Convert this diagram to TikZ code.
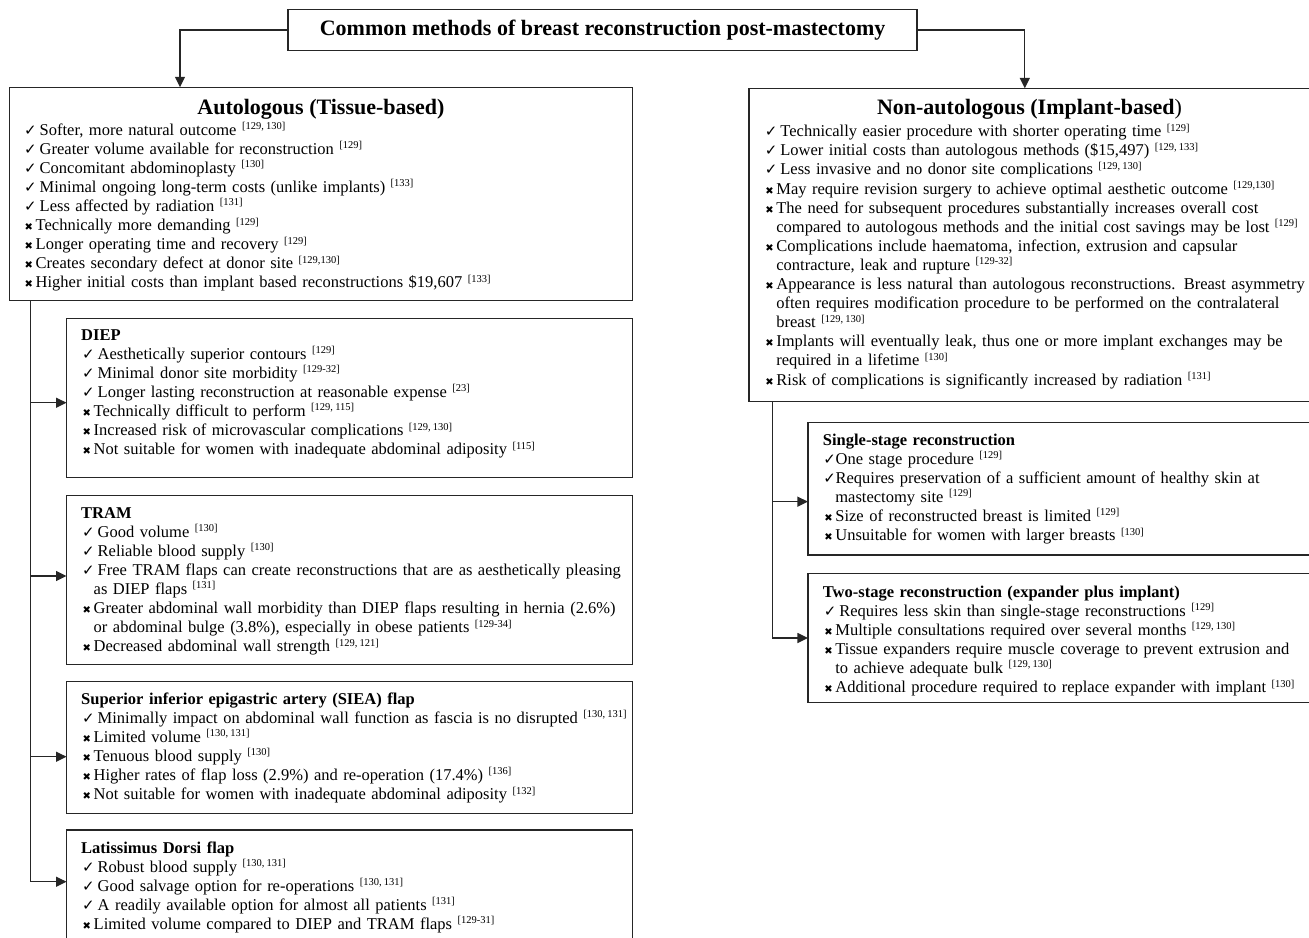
\documentclass[tikz,border=0pt]{standalone}
\usepackage{fontspec}
\setmainfont{Liberation Serif}
\newfontfamily\dvsans{DejaVu Sans}
\usepackage{tikz}
\usetikzlibrary{arrows.meta,positioning}
\newcommand{\rf}[1]{\raisebox{5.5pt}{\fontsize{10.5}{10.5}\selectfont\spaceskip=2.2pt\relax[#1]}}
\newcommand{\ck}{\makebox[16.5pt][l]{\hspace{1pt}\dvsans\fontsize{15}{15}\selectfont ✓}}
\newcommand{\ckt}{\makebox[12.7pt][l]{\hspace{0.5pt}\dvsans\fontsize{15}{15}\selectfont ✓}}
\newcommand{\xx}{\makebox[12.5pt][l]{\hspace{1.5pt}\dvsans\fontsize{10}{10}\selectfont ✖}}
\newcommand{\cont}{\hspace*{12.5pt}}

\begin{document}
\begin{tikzpicture}[
  x=1pt, y=-1pt,
  box/.style={draw=black!85, line width=1.4pt, inner sep=0pt, outer sep=0pt,
    anchor=north west, minimum width=566pt},
  head/.style={font=\fontsize{22}{24}\selectfont\bfseries, anchor=base, inner sep=0pt},
  items/.style={font=\fontsize{16.5}{19.1}\selectfont, anchor=base west,
    inner sep=0pt, text width=560pt, align=left},
  link/.style={line width=1.3pt, draw=black!85, -{Triangle[length=10.5pt,width=10pt]}}
]
  \useasboundingbox (0,0) rectangle (1309,937);

  % Title
  \node[box, anchor=center, minimum width=629pt, minimum height=41.4pt,
    font=\fontsize{22}{24}\selectfont\bfseries] (title) at (602.6,30)
    {Common methods of breast reconstruction post-mastectomy};

  % Main boxes
  \node[box, minimum width=623.3pt, minimum height=213.4pt] (auto) at (9.3,87.3) {};
  \node[head] (autohead) at (321,114) {Autologous (Tissue-based)};
  \node[items] (autolist) at (23,135) {%
    \ck Softer, more natural outcome \rf{129, 130}\\
    \ck Greater volume available for reconstruction \rf{129}\\
    \ck Concomitant abdominoplasty \rf{130}\\
    \ck Minimal ongoing long-term costs (unlike implants) \rf{133}\\
    \ck Less affected by radiation \rf{131}\\
    \xx Technically more demanding \rf{129}\\
    \xx Longer operating time and recovery \rf{129}\\
    \xx Creates secondary defect at donor site \rf{129,130}\\
    \xx Higher initial costs than implant based reconstructions \$19,607 \rf{133}};

  \node[box, minimum width=590pt, minimum height=313.4pt] (implant) at (748.8,88.3) {};
  \node[head] (implanthead) at (1029.5,114) {Non-autologous (Implant-based{\mdseries )}};
  \node[items] (implantlist) at (763.7,136.7) {%
    \ck Technically easier procedure with shorter operating time \rf{129}\\
    \ck Lower initial costs than autologous methods (\$15,497) \rf{129, 133}\\
    \ck Less invasive and no donor site complications \rf{129, 130}\\
    \xx May require revision surgery to achieve optimal aesthetic outcome \rf{129,130}\\
    \xx The need for subsequent procedures substantially increases overall cost\\
    \cont compared to autologous methods and the initial cost savings may be lost \rf{129}\\
    \xx Complications include haematoma, infection, extrusion and capsular\\
    \cont contracture, leak and rupture \rf{129-32}\\
    \xx Appearance is less natural than autologous reconstructions. Breast asymmetry\\
    \cont often requires modification procedure to be performed on the contralateral\\
    \cont breast \rf{129, 130}\\
    \xx Implants will eventually leak, thus one or more implant exchanges may be\\
    \cont required in a lifetime \rf{130}\\
    \xx Risk of complications is significantly increased by radiation \rf{131}};

  % Autologous flaps
  \node[box, minimum height=159.4pt] (diep) at (66.5,318.3) {};
  \node[items] (dieplist) at (81,340) {%
    \textbf{DIEP}\\
    \ck Aesthetically superior contours \rf{129}\\
    \ck Minimal donor site morbidity \rf{129-32}\\
    \ck Longer lasting reconstruction at reasonable expense \rf{23}\\
    \xx Technically difficult to perform \rf{129, 115}\\
    \xx Increased risk of microvascular complications \rf{129, 130}\\
    \xx Not suitable for women with inadequate abdominal adiposity \rf{115}};

  \node[box, minimum height=168.6pt] (tram) at (66.5,495.7) {};
  \node[items] (tramlist) at (81,518) {%
    \textbf{TRAM}\\
    \ck Good volume \rf{130}\\
    \ck Reliable blood supply \rf{130}\\
    \ck Free TRAM flaps can create reconstructions that are as aesthetically pleasing\\
    \cont as DIEP flaps \rf{131}\\
    \xx Greater abdominal wall morbidity than DIEP flaps resulting in hernia (2.6\%)\\
    \cont or abdominal bulge (3.8\%), especially in obese patients \rf{129-34}\\
    \xx Decreased abdominal wall strength \rf{129, 121}};

  \node[box, minimum height=131.6pt] (siea) at (66.5,681.7) {};
  \node[items] (siealist) at (81,704) {%
    \textbf{Superior inferior epigastric artery (SIEA) flap}\\
    \ck Minimally impact on abdominal wall function as fascia is no disrupted \rf{130, 131}\\
    \xx Limited volume \rf{130, 131}\\
    \xx Tenuous blood supply \rf{130}\\
    \xx Higher rates of flap loss (2.9\%) and re-operation (17.4\%) \rf{136}\\
    \xx Not suitable for women with inadequate abdominal adiposity \rf{132}};

  \node[box, minimum height=120pt] (lat) at (66.5,830) {};
  \node[items] (latlist) at (81,853) {%
    \textbf{Latissimus Dorsi flap}\\
    \ck Robust blood supply \rf{130, 131}\\
    \ck Good salvage option for re-operations \rf{130, 131}\\
    \ck A readily available option for almost all patients \rf{131}\\
    \xx Limited volume compared to DIEP and TRAM flaps \rf{129-31}};

  % Implant stages
  \node[box, minimum width=530pt, minimum height=132.3pt] (single) at (807.9,422.7) {};
  \node[items] (singlelist) at (822.7,445) {%
    \textbf{Single-stage reconstruction}\\
    \ckt One stage procedure \rf{129}\\
    \ckt Requires preservation of a sufficient amount of healthy skin at\\
    \cont mastectomy site \rf{129}\\
    \xx Size of reconstructed breast is limited \rf{129}\\
    \xx Unsuitable for women with larger breasts \rf{130}};

  \node[box, minimum width=530pt, minimum height=129.4pt] (two) at (807.9,573.3) {};
  \node[items] (twolist) at (822.7,597) {%
    \textbf{Two-stage reconstruction (expander plus implant)}\\
    \ck Requires less skin than single-stage reconstructions \rf{129}\\
    \xx Multiple consultations required over several months \rf{129, 130}\\
    \xx Tissue expanders require muscle coverage to prevent extrusion and\\
    \cont to achieve adequate bulk \rf{129, 130}\\
    \xx Additional procedure required to replace expander with implant \rf{130}};

  % Connectors
  \draw[link] (title.west) -| ([xshift=170.7pt]auto.north west);
  \draw[link] (title.east) -| ([xshift=276pt]implant.north west);

  \coordinate (ltrunk) at ([xshift=21pt]auto.south west);
  \foreach \b/\dy in {diep/-4.7, tram/4, siea/-9.2, lat/8.3}
    \draw[link] (ltrunk) |- ([yshift=\dy pt]\b.west);

  \coordinate (rtrunk) at ([xshift=24pt]implant.south west);
  \foreach \b/\dy in {single/-12.8, two/0}
    \draw[link] (rtrunk) |- ([yshift=\dy pt]\b.west);
\end{tikzpicture}
\end{document}
